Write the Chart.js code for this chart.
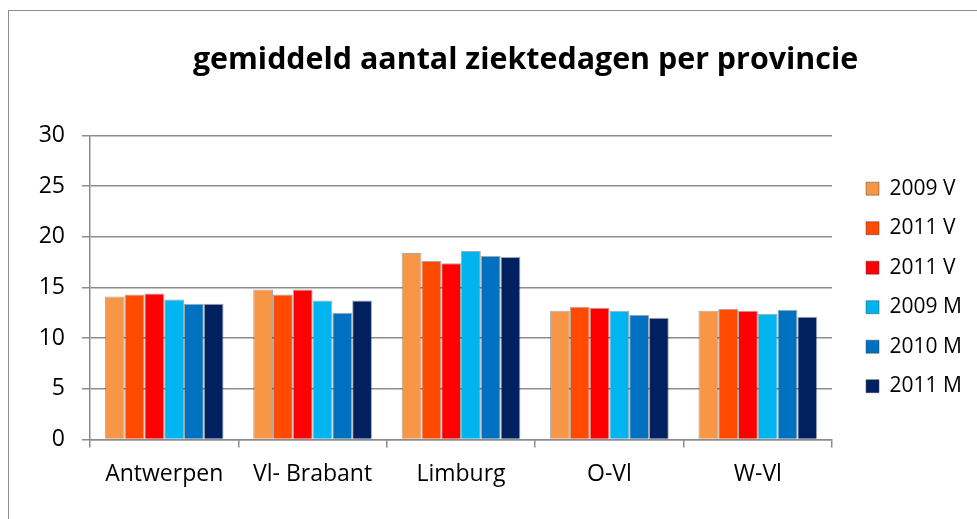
<!DOCTYPE html>
<html>
<head>
<meta charset="utf-8">
<script src="https://cdn.jsdelivr.net/npm/chart.js@4/dist/chart.umd.min.js"></script>
<style>
  body { margin: 0; background: #fff; overflow: hidden; }
  #kader { position: absolute; left: 8px; top: 10px; width: 980px; height: 600px; border: 1px solid #8c8c8c; }
  #houder { position: absolute; left: 0; top: 0; width: 1013px; height: 519px; }
</style>
</head>
<body>
<div id="kader"></div>
<div id="houder"><canvas id="grafiek"></canvas></div>
<script>
var provincies = ['Antwerpen', 'Vl- Brabant', 'Limburg', 'O-Vl', 'W-Vl'];
var reeksNamen = ['2009 V', '2011 V', '2011 V', '2009 M', '2010 M', '2011 M'];

var v2009 = [14.1, 14.8, 18.4, 12.7, 12.7];
var v2011a = [14.3, 14.3, 17.6, 13.1, 12.9];
var v2011b = [14.4, 14.8, 17.4, 13.0, 12.7];
var m2009 = [13.8, 13.7, 18.6, 12.7, 12.4];
var m2010 = [13.4, 12.5, 18.1, 12.3, 12.8];
var m2011 = [13.4, 13.7, 18.0, 12.0, 12.1];

var yTicks = [0, 5, 10, 15, 20, 25, 30];

var kleuren = ['#F79646', '#FF4A00', '#FF0000', '#00B4F0', '#0070C0', '#002060'];
var reeksen = [v2009, v2011a, v2011b, m2009, m2010, m2011];

var lettertype = "'Open Sans', sans-serif";
var grijs = '#8c8c8c';

var datasets = reeksen.map(function(waarden, i){
    return {
        label: reeksNamen[i],
        data: waarden,
        backgroundColor: kleuren[i],
        borderColor: 'rgba(60,60,60,0.45)',
        borderWidth: 1,
        categoryPercentage: 0.8,
        barPercentage: 1.0
    };
});

// lege as zonder inhoud, alleen om ruimte te maken
function spacer(breedte, gewicht){
    return {
        type: 'linear',
        position: 'right',
        weight: gewicht,
        grid: { display: false },
        border: { display: false },
        ticks: { display: false },
        afterFit: function(schaal){ schaal.width = breedte; }
    };
}

var ctx = document.getElementById('grafiek');

new Chart(ctx, {
    type: 'bar',
    data: {
        labels: provincies,
        datasets: datasets
    },
    options: {
        responsive: true,
        maintainAspectRatio: false,
        animation: false,
        layout: {
            padding: { left: 38, right: 0, top: 0, bottom: 18 }
        },
        plugins: {
            title: {
                display: true,
                text: 'gemiddeld aantal ziektedagen per provincie',
                color: '#000',
                font: { family: lettertype, size: 30.4, weight: 'bold' },
                padding: { top: 42, bottom: 57 }
            },
            legend: {
                position: 'right',
                fullSize: false,
                align: 'center',
                labels: {
                    color: '#000',
                    font: { family: lettertype, size: 21 },
                    boxWidth: 13,
                    boxHeight: 13,
                    padding: 18.5
                }
            },
            tooltip: { enabled: false }
        },
        scales: {
            x: {
                grid: {
                    drawOnChartArea: false,
                    color: grijs,
                    lineWidth: 1.5,
                    tickLength: 8
                },
                border: { color: grijs, width: 1.5 },
                ticks: {
                    color: '#000',
                    font: { family: lettertype, size: 23 },
                    padding: 13
                }
            },
            y: {
                min: 0,
                max: 30,
                afterBuildTicks: function(schaal){
                    schaal.ticks = yTicks.map(function(t){ return { value: t }; });
                },
                afterFit: function(schaal){
                    schaal.width = 52;
                },
                grid: {
                    color: grijs,
                    lineWidth: 1.5,
                    tickLength: 8
                },
                border: { color: grijs, width: 1.5 },
                ticks: {
                    color: '#000',
                    font: { family: lettertype, size: 23 },
                    padding: 17
                }
            },
            binnen: spacer(15.5, 0),
            buiten: spacer(43.6, 3000)
        }
    }
});
</script>
</body>
</html>
